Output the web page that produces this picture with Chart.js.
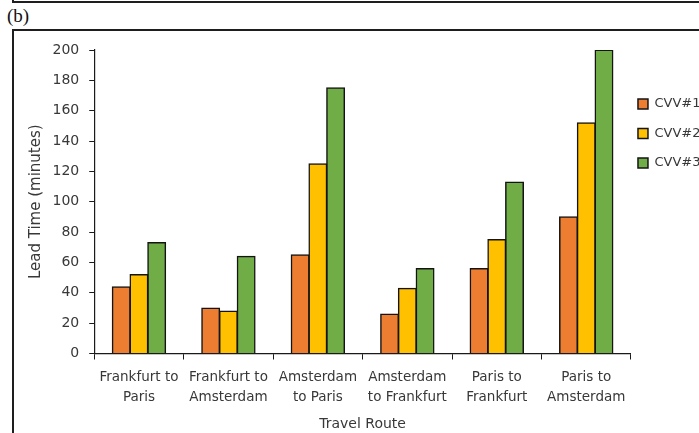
<!DOCTYPE html>
<html>
<head>
<meta charset="utf-8">
<script src="https://cdn.jsdelivr.net/npm/chart.js@4.4.0/dist/chart.umd.min.js"></script>
<style>
body{margin:0;background:#fff;}
#wrap{position:relative;width:699px;height:433px;overflow:hidden;}
#chartBox{position:absolute;left:0;top:0;width:699px;height:433px;}
.line{position:absolute;background:#1e1e1e;}
#tag{position:absolute;left:7px;top:5px;font:19px "Liberation Serif",serif;color:#111;}
</style>
</head>
<body>
<div id="wrap">
    <div class="line" style="left:12px;top:1px;width:687px;height:2px"></div>
    <div class="line" style="left:12px;top:0;width:2px;height:3px"></div>
    <div id="tag">(b)</div>
    <div class="line" style="left:12px;top:29px;width:687px;height:2px"></div>
    <div class="line" style="left:12px;top:29px;width:2px;height:404px"></div>
    <div id="chartBox"><canvas id="myBarChart"></canvas></div>
</div>
<script>
// travel routes (two-line labels like the original)
var routes = [["Frankfurt to", "Paris"], ["Frankfurt to", "Amsterdam"], ["Amsterdam", "to Paris"],
              ["Amsterdam", "to Frankfurt"], ["Paris to", "Frankfurt"], ["Paris to", "Amsterdam"]];
var cvv1 = [44, 30, 65, 26, 56, 90];
var cvv2 = [52, 28, 125, 43, 75, 152];
var cvv3 = [73, 64, 175, 56, 113, 200];
var yTicks = [0, 20, 40, 60, 80, 100, 120, 140, 160, 180, 200];

Chart.defaults.font.family = "'DejaVu Sans', sans-serif";
Chart.defaults.color = '#383838';

// pull the legend a bit closer to the plot
var legendNudge = {
    id: 'legendNudge',
    afterLayout: function(chart){
        chart.legend.left -= 9.5;
        chart.legend.right -= 9.5;
    }
};

var ctx = document.getElementById('myBarChart').getContext('2d');
var chart = new Chart(ctx, {
    type: 'bar',
    data: {
        labels: routes,
        datasets: [
            {label: "CVV#1", data: cvv1, backgroundColor: "#ED7D31"},
            {label: "CVV#2", data: cvv2, backgroundColor: "#FFC000"},
            {label: "CVV#3", data: cvv3, backgroundColor: "#70AD47"}
        ]
    },
    options: {
        responsive: true,
        maintainAspectRatio: false,
        animation: false,
        layout: {padding: {left: 20.5, top: 50, right: -21, bottom: -1.1}},
        datasets: {
            bar: {
                borderColor: "#141414",
                borderWidth: 1.5,
                inflateAmount: 0.6,
                categoryPercentage: 0.595,
                barPercentage: 1.0
            }
        },
        plugins: {
            legend: {
                position: 'right',
                align: 'start',
                title: {display: true, text: ' ', padding: {top: 15.4, bottom: 0}, font: {size: 13}},
                labels: {boxWidth: 10, boxHeight: 10, padding: 16.5, font: {size: 13}, color: '#383838'}
            },
            tooltip: {enabled: false}
        },
        scales: {
            x: {
                grid: {display: true, drawOnChartArea: false, tickLength: 6, color: '#1a1a1a', offset: true},
                border: {display: true, color: '#1a1a1a', width: 1.2},
                ticks: {autoSkip: false, maxRotation: 0, padding: 8.4, font: {size: 13.5, lineHeight: 20 / 13.5}},
                title: {display: true, text: 'Travel Route', font: {size: 14}, padding: {top: 0, bottom: 1}}
            },
            y: {
                min: 0,
                max: 200,
                afterBuildTicks: function(axis){
                    axis.ticks = yTicks.map(function(v){ return {value: v}; });
                },
                grid: {display: true, drawOnChartArea: false, tickLength: 5, color: '#1a1a1a'},
                border: {display: true, color: '#1a1a1a', width: 1.2},
                ticks: {padding: 10, font: {size: 14}},
                title: {display: true, text: 'Lead Time (minutes)', font: {size: 15, lineHeight: 0.8}, padding: {top: 10, bottom: 0}}
            }
        }
    },
    plugins: [legendNudge]
});
</script>
</body>
</html>
